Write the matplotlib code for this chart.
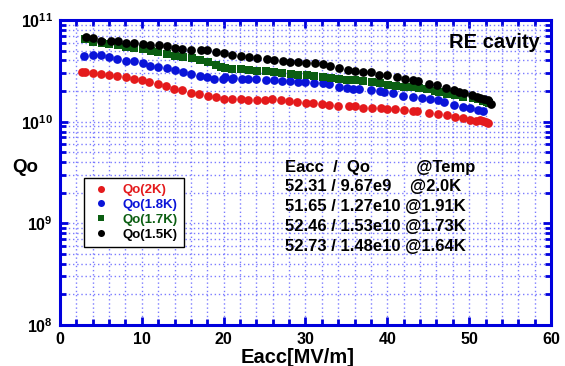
import numpy as np
import matplotlib
matplotlib.use("Agg")
import matplotlib.pyplot as plt
from matplotlib.ticker import LogLocator, MultipleLocator, FixedLocator, NullFormatter

plt.rcParams['font.family'] = ['Liberation Sans', 'DejaVu Sans']
plt.rcParams['font.weight'] = 'bold'
plt.rcParams['mathtext.fontset'] = 'custom'
plt.rcParams['mathtext.rm'] = 'Liberation Sans:bold'
plt.rcParams['mathtext.bf'] = 'Liberation Sans:bold'

# --- data ---
e_2k = [2.69, 3.06, 4.0, 5.01, 5.99, 7.0, 8.07, 9.04, 9.98, 10.91, 11.94, 12.95, 13.97, 14.95,
        16.01, 17.02, 18.05, 19.06, 20.0, 21.06, 22.12, 23.01, 24.07, 25.09, 25.94, 26.97,
        28.02, 28.96, 30.1, 30.95, 31.98, 32.91, 34.0, 35.28, 36.05, 37.06, 38.09, 39.19,
        40.0, 40.94, 42.07, 43.1, 43.66, 45.13, 46.16, 47.26, 48.27, 49.21, 50.1, 50.8,
        51.33, 51.66, 52.06, 52.31]
q_2k = [3.08e10, 3.08e10, 3.01e10, 2.94e10, 2.88e10, 2.81e10, 2.75e10, 2.65e10, 2.57e10,
        2.45e10, 2.36e10, 2.24e10, 2.11e10, 2.04e10, 1.93e10, 1.86e10, 1.79e10, 1.75e10,
        1.68e10, 1.66e10, 1.66e10, 1.63e10, 1.63e10, 1.63e10, 1.66e10, 1.62e10, 1.59e10,
        1.57e10, 1.54e10, 1.53e10, 1.49e10, 1.47e10, 1.44e10, 1.43e10, 1.43e10, 1.37e10,
        1.36e10, 1.36e10, 1.34e10, 1.33e10, 1.30e10, 1.27e10, 1.27e10, 1.22e10, 1.20e10,
        1.16e10, 1.11e10, 1.08e10, 1.04e10, 1.02e10, 1.04e10, 1.02e10, 9.98e9, 9.67e9]

e_18k = [2.93, 4.0, 4.97, 6.02, 7.0, 8.03, 9.04, 10.1, 11.0, 12.01, 13.08, 14.02, 15.0, 16.05,
         17.11, 17.93, 18.82, 19.96, 20.16, 20.98, 21.14, 22.2, 22.94, 23.99, 25.14, 26.11,
         27.09, 28.07, 29.08, 30.0, 31.08, 32.1, 32.91, 34.13, 35.04, 35.84, 36.58, 37.97,
         39.11, 39.59, 40.73, 41.95, 43.17, 44.2, 45.22, 46.23, 46.93, 48.15, 49.21, 50.1,
         51.04, 51.65]
q_18k = [4.43e10, 4.50e10, 4.50e10, 4.33e10, 4.14e10, 3.98e10, 3.95e10, 3.78e10, 3.55e10,
         3.43e10, 3.35e10, 3.20e10, 3.06e10, 2.94e10, 2.81e10, 2.75e10, 2.65e10, 2.65e10,
         2.75e10, 2.61e10, 2.69e10, 2.65e10, 2.65e10, 2.61e10, 2.57e10, 2.55e10, 2.51e10,
         2.50e10, 2.47e10, 2.44e10, 2.42e10, 2.40e10, 2.35e10, 2.21e10, 2.14e10, 2.11e10,
         2.10e10, 2.05e10, 2.02e10, 1.97e10, 1.90e10, 1.80e10, 1.75e10, 1.71e10, 1.66e10,
         1.62e10, 1.56e10, 1.47e10, 1.39e10, 1.36e10, 1.30e10, 1.27e10]

e_17k = [3.06, 4.0, 5.1, 6.02, 7.05, 8.03, 9.04, 10.1, 11.08, 11.94, 13.04, 14.05, 15.07,
         16.09, 17.11, 18.09, 19.06, 19.64, 20.13, 21.06, 22.12, 23.06, 24.07, 25.14, 26.11,
         27.09, 28.19, 29.12, 30.15, 31.08, 32.1, 33.08, 34.13, 35.11, 36.05, 37.06, 38.09,
         39.11, 40.12, 41.06, 42.07, 42.98, 43.87, 44.81, 45.83, 46.35, 47.26, 48.27, 49.29,
         50.51, 51.04, 51.66, 52.15, 52.46]
q_17k = [6.46e10, 6.08e10, 5.94e10, 5.77e10, 5.64e10, 5.46e10, 5.34e10, 5.15e10, 4.95e10,
         4.84e10, 4.63e10, 4.46e10, 4.30e10, 4.20e10, 4.04e10, 3.86e10, 3.63e10, 3.45e10,
         3.40e10, 3.30e10, 3.27e10, 3.22e10, 3.17e10, 3.17e10, 3.08e10, 3.03e10, 2.94e10,
         2.90e10, 2.90e10, 2.81e10, 2.75e10, 2.71e10, 2.63e10, 2.57e10, 2.55e10, 2.50e10,
         2.46e10, 2.40e10, 2.31e10, 2.24e10, 2.19e10, 2.18e10, 2.14e10, 2.08e10, 2.02e10,
         1.97e10, 1.86e10, 1.82e10, 1.75e10, 1.70e10, 1.66e10, 1.60e10, 1.57e10, 1.53e10]

e_15k = [3.14, 4.07, 4.97, 6.2, 7.05, 8.1, 9.04, 10.14, 11.0, 12.1, 13.04, 14.05, 14.95,
         15.97, 17.19, 18.0, 19.06, 20.08, 20.98, 22.16, 23.1, 24.07, 25.26, 26.19, 27.21,
         28.14, 29.12, 30.12, 31.16, 32.18, 33.0, 34.13, 35.23, 36.05, 37.06, 37.97, 39.02,
         40.0, 41.22, 42.16, 43.17, 43.79, 45.13, 46.03, 47.13, 48.18, 48.8, 49.41, 50.39,
         50.92, 51.33, 51.85, 52.34, 52.73]
q_15k = [6.76e10, 6.61e10, 6.26e10, 6.22e10, 6.22e10, 5.98e10, 5.90e10, 5.81e10, 5.71e10,
         5.68e10, 5.51e10, 5.31e10, 5.22e10, 5.11e10, 5.11e10, 5.04e10, 4.88e10, 4.74e10,
         4.56e10, 4.40e10, 4.30e10, 4.20e10, 4.11e10, 4.02e10, 3.95e10, 3.89e10, 3.84e10,
         3.78e10, 3.75e10, 3.69e10, 3.53e10, 3.35e10, 3.25e10, 3.15e10, 3.08e10, 3.06e10,
         2.90e10, 2.86e10, 2.77e10, 2.65e10, 2.55e10, 2.51e10, 2.35e10, 2.30e10, 2.14e10,
         2.04e10, 1.96e10, 1.93e10, 1.82e10, 1.76e10, 1.72e10, 1.67e10, 1.62e10, 1.48e10]

labels = ['Qo(2K)', 'Qo(1.8K)', 'Qo(1.7K)', 'Qo(1.5K)']
colors = ['#e41a1c', '#0a14d8', '#0b5e12', '#000000']
markers = ['o', 'o', 's', 'o']

summary = ['Eacc  /  Qo          @Temp',
           '52.31 / 9.67e9    @2.0K',
           '51.65 / 1.27e10 @1.91K',
           '52.46 / 1.53e10 @1.73K',
           '52.73 / 1.48e10 @1.64K']

blue = '#0000dd'
grid_c = '#5a5aff'

fig = plt.figure(figsize=(5.65, 3.66), dpi=100)
ax = fig.add_axes([0.1062, 0.112, 0.869, 0.8334])

series = [(e_2k, q_2k), (e_18k, q_18k), (e_17k, q_17k), (e_15k, q_15k)]
for (x, y), lab, c, m in zip(series, labels, colors, markers):
    ax.plot(x, y, linestyle='none', marker=m, color=c, markersize=6.3 if m == 'o' else 5.8,
            markeredgewidth=0, label=lab, zorder=3)

ax.set_yscale('log')
ax.set_xlim(0, 60)
ax.set_ylim(1e8, 1e11)

ax.xaxis.set_major_locator(MultipleLocator(10))
ax.xaxis.set_minor_locator(MultipleLocator(2))
ax.yaxis.set_major_locator(FixedLocator([1e8, 1e9, 1e10, 1e11]))
ax.yaxis.set_minor_locator(LogLocator(base=10, subs=np.arange(2, 10), numticks=20))
ax.yaxis.set_minor_formatter(NullFormatter())
ax.set_yticklabels([r'$\mathbf{10^{%d}}$' % k for k in [8, 9, 10, 11]])

ax.grid(True, which='both', color=grid_c, linestyle=(0, (1, 2)), linewidth=1.0, alpha=0.8)
ax.set_axisbelow(True)

for s in ax.spines.values():
    s.set_color(blue)
    s.set_linewidth(2.2)
ax.tick_params(which='both', direction='in', colors=blue, top=True, right=True,
               labelcolor='black', labelsize=11.5, width=2)
ax.tick_params(which='major', length=6, pad=5)
ax.tick_params(which='minor', length=4)
for t in ax.get_xticklabels() + ax.get_yticklabels():
    t.set_fontweight('bold')

ax.set_xlabel('Eacc[MV/m]', fontsize=14.5, fontweight='bold')
ax.xaxis.set_label_coords(0.483, -0.075)
ax.set_ylabel('Qo', fontsize=13.5, fontweight='bold', rotation=0, va='center', ha='center')
ax.yaxis.set_label_coords(-0.071, 0.515)

ax.text(0.977, 0.925, 'RE cavity', transform=ax.transAxes, ha='right', va='center',
        fontsize=14.5, fontweight='bold')

for i, line in enumerate(summary):
    ax.text(0.458, 0.518 - i * 0.0648, line, transform=ax.transAxes, ha='left', va='center',
            fontsize=12, fontweight='bold')

leg = ax.legend(loc='upper left', bbox_to_anchor=(0.049, 0.482), borderaxespad=0,
                fontsize=9.5, frameon=True, fancybox=False, edgecolor='black', framealpha=1,
                handletextpad=0.9, borderpad=0.45, labelspacing=0.2, markerscale=0.8,
                handlelength=1.6)
leg.get_frame().set_linewidth(1.0)
for txt, c in zip(leg.get_texts(), colors):
    txt.set_color(c)
    txt.set_fontweight('bold')

fig.savefig('out.png', dpi=100)
